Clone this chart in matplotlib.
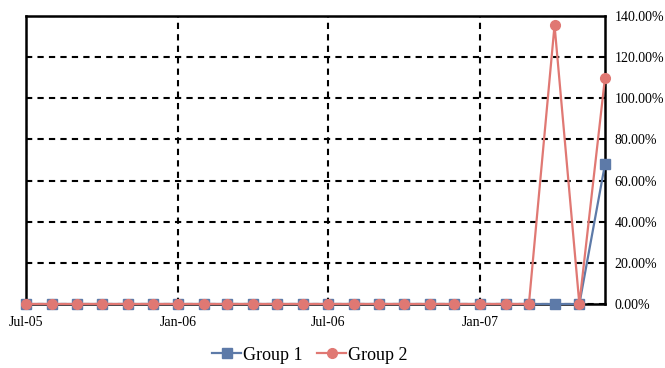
import matplotlib
matplotlib.use("Agg")
import matplotlib.pyplot as plt
import matplotlib.dates as mdates
import numpy as np
import pandas as pd
from matplotlib.ticker import FuncFormatter, MultipleLocator

plt.rcParams['font.family'] = ['Liberation Serif', 'DejaVu Serif']

months = pd.date_range("2005-07-01", "2007-06-01", freq="MS")
group1 = [0]*23 + [68]
group2 = [0]*21 + [135.5, 0, 110]
group1_label = "Group 1"
group2_label = "Group 2"
tick_dates = pd.to_datetime(["2005-07-01", "2006-01-01", "2006-07-01", "2007-01-01"])

fig = plt.figure(figsize=(6.65, 3.68), dpi=100)
ax = fig.add_axes([26/665, 1-304/368, (605-26)/665, (304-16)/368])

blue = "#5D7AA8"
pink = "#E07873"
ax.plot(months, group1, color=blue, marker="s", markersize=6.5, lw=1.6, label=group1_label, zorder=3, clip_on=False)
ax.plot(months, group2, color=pink, marker="o", markersize=7, lw=1.6, label=group2_label, zorder=4, clip_on=False)

ax.set_xlim(months[0], months[-1])
ax.set_ylim(0, 140)
ax.yaxis.set_major_locator(MultipleLocator(20))
ax.yaxis.set_major_formatter(FuncFormatter(lambda v, p: f"{v:.2f}%"))
ax.yaxis.tick_right()
ax.set_xticks(tick_dates)
ax.xaxis.set_major_formatter(mdates.DateFormatter("%b-%y"))
ax.tick_params(axis="both", length=0, labelsize=10, colors="black")
ax.tick_params(axis="x", pad=9)
ax.tick_params(axis="y", pad=7)
ax.grid(True, color="black", linestyle=(0, (3, 2.5)), lw=1.5)
for s in ax.spines.values():
    s.set_color("black")
    s.set_linewidth(1.8)

leg = fig.legend(loc="center", bbox_to_anchor=(0.466, 0.035), ncol=2, frameon=False,
                 fontsize=13, handlelength=1.6, handletextpad=0.1, columnspacing=0.8)

fig.savefig("out.png", dpi=100)
